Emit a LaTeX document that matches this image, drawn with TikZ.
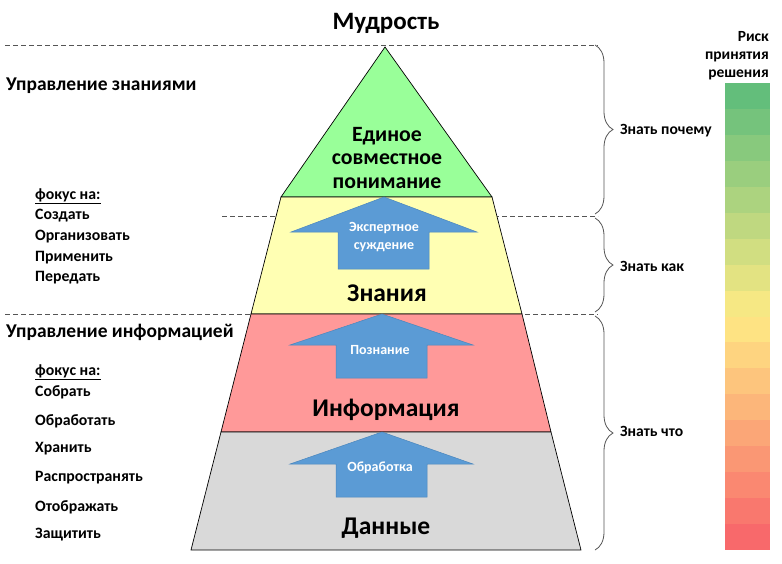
\documentclass[tikz,border=0pt]{standalone}
\usepackage{fontspec}
\setmainfont{Carlito}
\usetikzlibrary{decorations.pathreplacing}
\definecolor{lgreen}{HTML}{99FF99}
\definecolor{lyellow}{HTML}{FFFFB3}
\definecolor{lred}{HTML}{FF9999}
\definecolor{lgrey}{HTML}{D9D9D9}
\definecolor{arrblue}{HTML}{5B9BD5}
\definecolor{arredge}{HTML}{4A86BD}
\definecolor{cgreen}{HTML}{63BE7B}
\definecolor{cyellow}{HTML}{FFEB84}
\definecolor{cred}{HTML}{F8696B}
\definecolor{dashgray}{HTML}{555555}
\tikzset{
  layer/.style={draw=black, line width=0.7pt, line join=miter},
  blockarrow/.style={fill=arrblue, draw=arredge, line width=0.5pt},
  arrtext/.style={text=white, font=\bfseries\fontsize{14}{18}\selectfont, align=center, inner sep=0pt},
  bigtext/.style={font=\bfseries\fontsize{25.5}{27}\selectfont, inner sep=0pt},
  lefthead/.style={font=\bfseries\fontsize{19.5}{22}\selectfont, anchor=west, inner sep=0pt},
  leftitem/.style={font=\bfseries\fontsize{15.8}{18}\selectfont, anchor=west, inner sep=0pt},
  knowtext/.style={font=\bfseries\fontsize{15.6}{18}\selectfont, anchor=west, inner sep=0pt},
  sepline/.style={dashgray, line width=0.8pt, dash pattern=on 5pt off 3pt},
  bracestyle/.style={dashgray, line width=0.8pt, decorate, decoration={brace, amplitude=18pt}}
}
\begin{document}
\begin{tikzpicture}[x=1pt,y=-1pt]
\useasboundingbox (0,0) rectangle (782,563);
% dashed separators (behind pyramid)
\draw[sepline] (5,45) -- (598,45);
\draw[sepline] (222,216) -- (598,216);
\draw[sepline] (5,314) -- (598,314);
% pyramid layers
\path[layer, fill=lgreen] (385,47) -- (492,197) -- (281,197) -- cycle;
\path[layer, fill=lyellow] (281,197) -- (492,197) -- (522,314) -- (251,314) -- cycle;
\path[layer, fill=lred] (251,314) -- (522,314) -- (551,432) -- (221,432) -- cycle;
\path[layer, fill=lgrey] (221,432) -- (551,432) -- (581,550) -- (191,550) -- cycle;
% block arrows
\path[blockarrow] (384,197) -- (477,232) -- (429,232) -- (429,269) -- (338,269) -- (338,232) -- (291,232) -- cycle;
\path[blockarrow] (382,314) -- (473,345) -- (427,345) -- (427,378) -- (336,378) -- (336,345) -- (290,345) -- cycle;
\path[blockarrow] (382,432) -- (473,464) -- (427,464) -- (427,497) -- (336,497) -- (336,464) -- (290,464) -- cycle;
\node[arrtext] (expert) at (384,237) {Экспертное\\суждение};
\node[arrtext] (cogn) at (380,350) {Познание};
\node[arrtext] (proc) at (380,468) {Обработка};
% layer texts
\node[font=\bfseries\fontsize{25}{27}\selectfont, inner sep=0pt] (wisdom) at (386,23) {Мудрость};
\node[font=\bfseries\fontsize{21.8}{23.5}\selectfont, align=center, inner sep=0pt] (shared) at (387,158) {Единое\\совместное\\понимание};
\node[bigtext] (knowl) at (387,293) {Знания};
\node[bigtext] (info) at (386,410) {Информация};
\node[bigtext] (data) at (386,528) {Данные};
% left texts
\node[lefthead] (km) at (6,86) {Управление знаниями};
\node[leftitem] (f1) at (35,196) {\underline{фокус на:}};
\node[leftitem] (k1) at (35,216) {Создать};
\node[leftitem] (k2) at (35,237) {Организовать};
\node[leftitem] (k3) at (35,258) {Применить};
\node[leftitem] (k4) at (35,278) {Передать};
\node[lefthead] (im) at (6,332) {Управление информацией};
\node[leftitem] (f2) at (35,372) {\underline{фокус на:}};
\node[leftitem] (i1) at (35,392) {Собрать};
\node[leftitem] (i2) at (35,421) {Обработать};
\node[leftitem] (i3) at (35,449) {Хранить};
\node[leftitem] (i4) at (35,478) {Распространять};
\node[leftitem] (i5) at (35,507) {Отображать};
\node[leftitem] (i6) at (35,535) {Защитить};
% braces
\draw[bracestyle] (595,45) -- (595,214);
\draw[bracestyle] (595,218) -- (595,312);
\draw[bracestyle] (595,316) -- (595,550);
\node[knowtext] (why) at (620,131) {Знать почему};
\node[knowtext] (how) at (620,266) {Знать как};
\node[knowtext] (what) at (620,431) {Знать что};
% risk scale
\node[font=\bfseries\fontsize{15.5}{18}\selectfont, align=right, anchor=east, inner sep=0pt] (risk) at (769,56) {Риск\\принятия\\решения};
\foreach \i in {0,...,17}{
  \ifnum\i<9
    \pgfmathsetmacro\p{100-\i/8.5*100}
    \colorlet{segc}{cgreen!\p!cyellow}
  \else
    \pgfmathsetmacro\p{(\i-8.5)/8.5*100}
    \colorlet{segc}{cred!\p!cyellow}
  \fi
  \fill[segc] (725,{83+\i*25.944}) rectangle (770,{83+(\i+1)*25.944});
}
\end{tikzpicture}
\end{document}
